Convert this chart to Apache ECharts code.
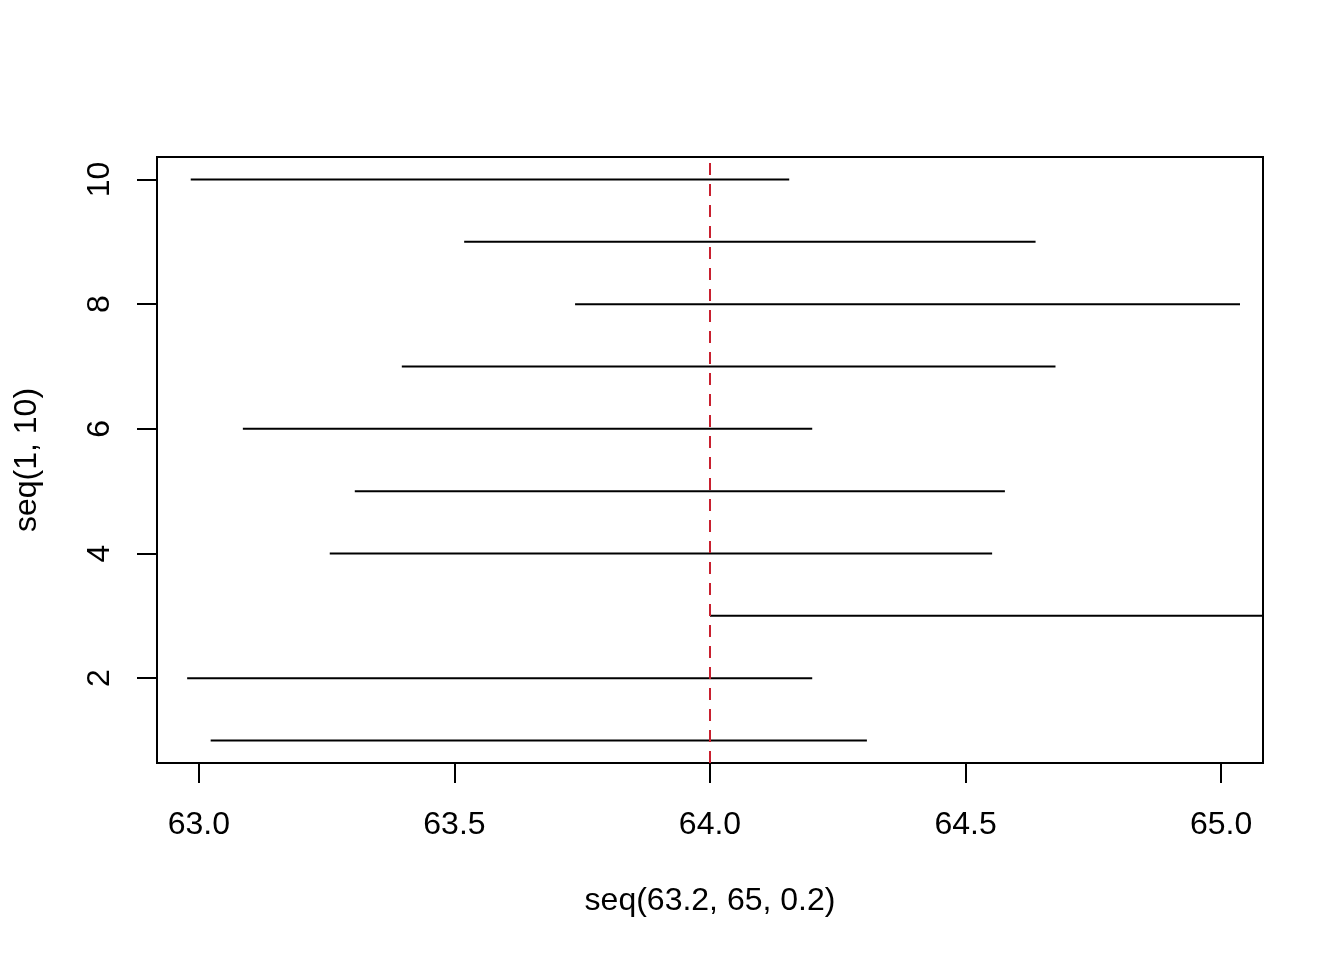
<!DOCTYPE html>
<html>
<head>
<meta charset="utf-8">
<script src="https://cdn.jsdelivr.net/npm/echarts@6/dist/echarts.min.js"></script>
<style>
html,body{margin:0;padding:0;background:#fff;}
#chart{width:1344px;height:960px;}
</style>
</head>
<body>
<div id="chart"></div>
<script>
// Segment data: y position, start x, end x
const yValues = [1, 2, 3, 4, 5, 6, 7, 8, 9, 10];
const xStart  = [63.023, 62.977, 64.000, 63.256, 63.305, 63.086, 63.397, 63.736, 63.519, 62.984];
const xEnd    = [64.307, 64.200, 65.200, 64.552, 64.577, 64.200, 64.676, 65.037, 64.637, 64.155];
const refLineX = 64;
const xTicks = [63.0, 63.5, 64.0, 64.5, 65.0];
const yTicks = [2, 4, 6, 8, 10];
const xTitle = 'seq(63.2, 65, 0.2)';
const yTitle = 'seq(1, 10)';

const segData = yValues.map((y, i) => [xStart[i], xEnd[i], y]);
const FONT = '"Liberation Sans", Arial, Helvetica, sans-serif';

const chart = echarts.init(document.getElementById('chart'), null, {renderer: 'canvas'});
chart.setOption({
  animation: false,
  backgroundColor: '#ffffff',
  grid: {
    left: 157, right: 81, top: 157, bottom: 197,
    show: true, borderColor: '#000', borderWidth: 2, backgroundColor: 'transparent'
  },
  xAxis: {
    type: 'value', min: 62.918, max: 65.082,
    axisLine: {show: false},
    splitLine: {show: false},
    axisTick: {show: true, customValues: xTicks, length: 20, lineStyle: {color: '#000', width: 2}},
    axisLabel: {customValues: xTicks, formatter: v => v.toFixed(1), fontSize: 32, color: '#000', fontFamily: FONT, margin: 46}
  },
  yAxis: {
    type: 'value', min: 0.64, max: 10.36,
    axisLine: {show: false},
    splitLine: {show: false},
    axisTick: {show: true, customValues: yTicks, length: 20, lineStyle: {color: '#000', width: 2}},
    axisLabel: {customValues: yTicks, rotate: 90, fontSize: 32, color: '#000', fontFamily: FONT, margin: 41}
  },
  graphic: [
    {type: 'text', x: 710, y: 901, style: {text: xTitle, fontSize: 32, fontFamily: FONT, fill: '#000', align: 'center', verticalAlign: 'middle'}},
    {type: 'text', x: 27, y: 460, rotation: Math.PI / 2, style: {text: yTitle, fontSize: 32, fontFamily: FONT, fill: '#000', align: 'center', verticalAlign: 'middle'}}
  ],
  series: [
    {
      type: 'custom',
      clip: true,
      data: segData,
      encode: {x: [0, 1], y: 2},
      renderItem: function (params, api) {
        const p0 = api.coord([api.value(0), api.value(2)]);
        const p1 = api.coord([api.value(1), api.value(2)]);
        return {
          type: 'line',
          shape: {x1: p0[0], y1: p0[1], x2: p1[0], y2: p1[1]},
          style: {stroke: '#000', lineWidth: 2}
        };
      },
      z: 2
    },
    {
      type: 'line',
      data: [],
      markLine: {
        silent: true,
        symbol: 'none',
        label: {show: false},
        lineStyle: {color: '#C8202F', width: 2, type: [12, 9]},
        data: [{xAxis: refLineX}]
      },
      z: 3
    }
  ]
});
</script>
</body>
</html>
